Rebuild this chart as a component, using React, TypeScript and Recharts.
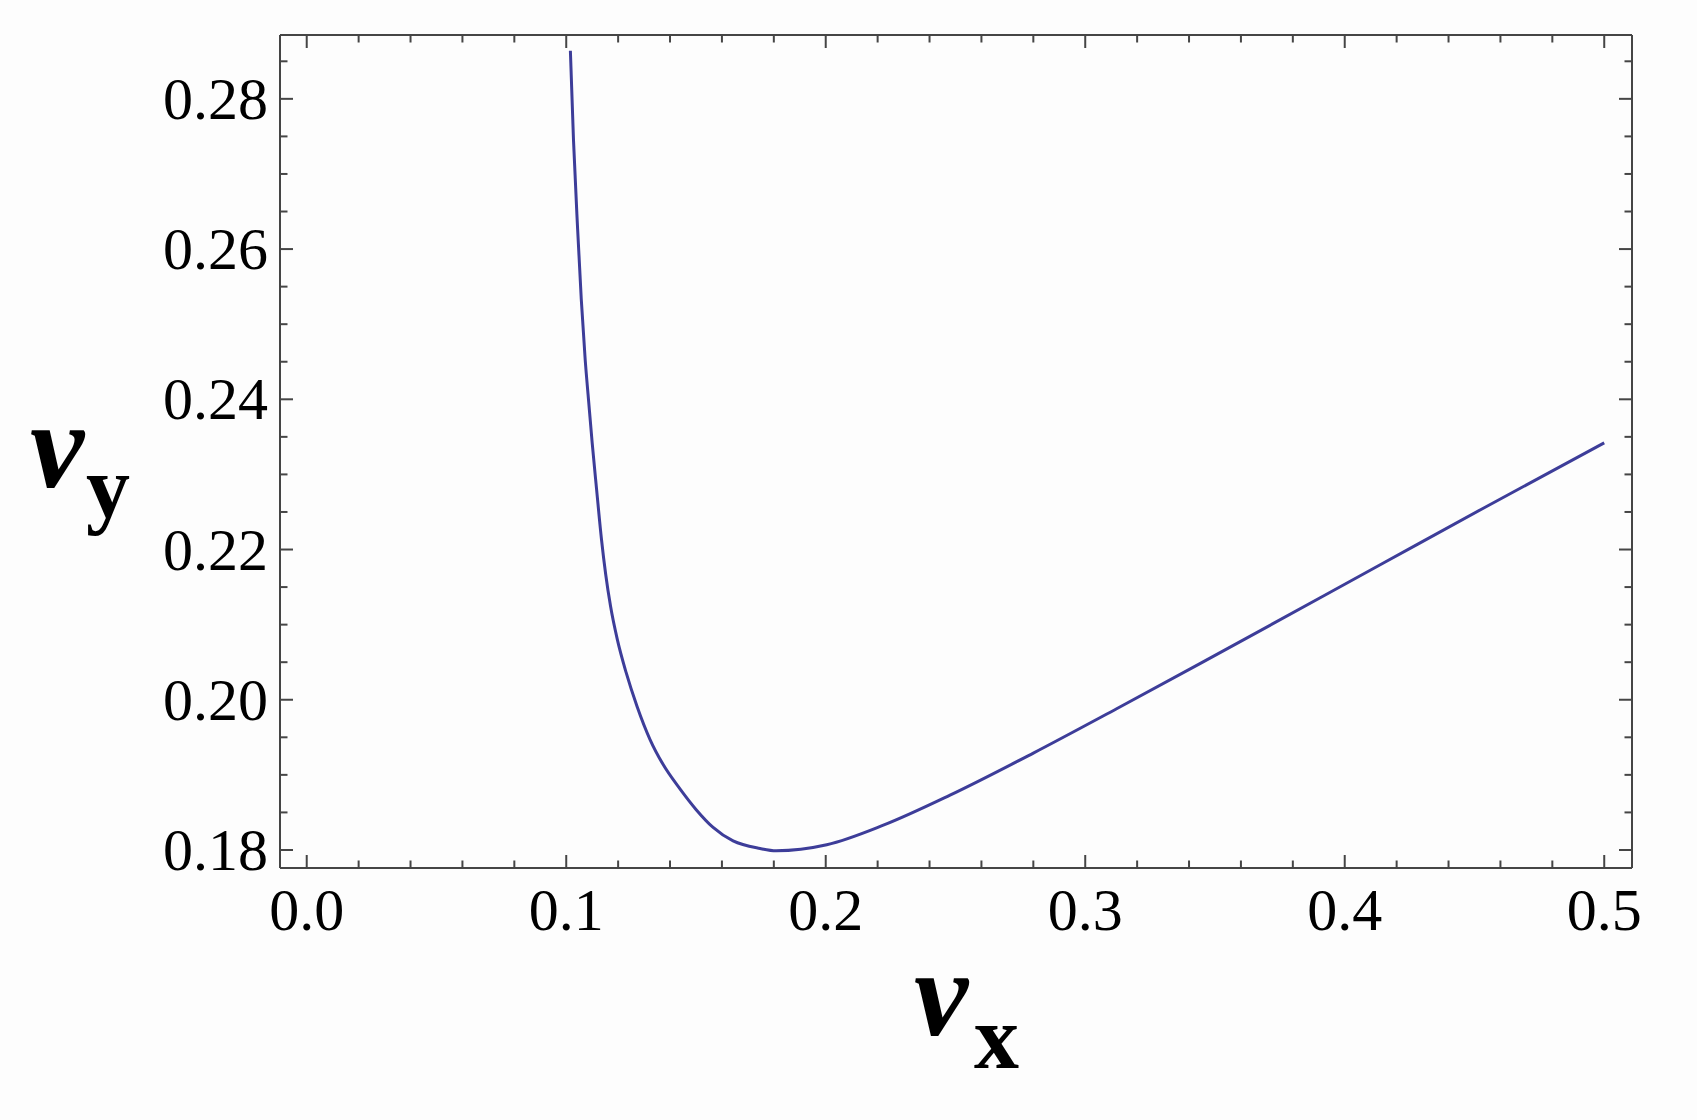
import React from "react";
import { LineChart, Line, XAxis, YAxis } from "recharts";

// curve (vx, vy)
const vxValues = [
  0.1016, 0.1028, 0.1044, 0.1058, 0.1073, 0.1086, 0.11, 0.1117, 0.1136,
  0.1152, 0.1171, 0.1197, 0.1231, 0.1273, 0.1323, 0.1373, 0.1439, 0.15,
  0.1566, 0.1643, 0.1747, 0.1809, 0.2004, 0.2222, 0.2479, 0.28, 0.3121,
  0.3442, 0.4149, 0.4534, 0.5,
];
const vyValues = [
  0.2864, 0.2745, 0.2626, 0.2533, 0.2453, 0.2399, 0.2342, 0.228, 0.2213,
  0.2167, 0.2124, 0.208, 0.2036, 0.1991, 0.1947, 0.1914, 0.1881, 0.1854,
  0.183, 0.1812, 0.1802, 0.1799, 0.1807, 0.1833, 0.1873, 0.1929, 0.1988,
  0.2048, 0.2182, 0.2255, 0.2342,
];

const xMajorTicks = [0, 0.1, 0.2, 0.3, 0.4, 0.5];
const xTickLabels = ["0.0", "0.1", "0.2", "0.3", "0.4", "0.5"];
const xMinorTicks = [
  0.02, 0.04, 0.06, 0.08, 0.12, 0.14, 0.16, 0.18, 0.22, 0.24, 0.26, 0.28,
  0.32, 0.34, 0.36, 0.38, 0.42, 0.44, 0.46, 0.48,
];
const yMajorTicks = [0.18, 0.2, 0.22, 0.24, 0.26, 0.28];
const yTickLabels = ["0.18", "0.20", "0.22", "0.24", "0.26", "0.28"];
const yMinorTicks = [
  0.185, 0.19, 0.195, 0.205, 0.21, 0.215, 0.225, 0.23, 0.235, 0.245, 0.25,
  0.255, 0.265, 0.27, 0.275, 0.285,
];

const xDomain = [-0.0103, 0.5107];
const yDomain = [0.1776, 0.2885];

const data = vxValues.map((vx, i) => ({ vx, vy: vyValues[i] }));
const allXTicks = [...xMajorTicks, ...xMinorTicks].sort((a, b) => a - b);
const allYTicks = [...yMajorTicks, ...yMinorTicks].sort((a, b) => a - b);

const FONT = "'Liberation Serif', 'Times New Roman', serif";
const FRAME = "#454545";
const CURVE = "#3d3d99";

const majorIndex = (v: number, majors: number[]) =>
  majors.findIndex((m) => Math.abs(m - v) < 1e-9);

// side: which edge of the frame the tick sits on; ticks point inward
const FrameTick = (props: any) => {
  const { x, y, payload, side } = props;
  const v = payload.value;
  const majors = side === "bottom" || side === "top" ? xMajorTicks : yMajorTicks;
  const mi = majorIndex(v, majors);
  const len = mi >= 0 ? 13 : 7.5;
  if (side === "bottom") {
    return (
      <g>
        <line x1={x} y1={y} x2={x} y2={y - len} stroke={FRAME} strokeWidth={2} />
        {mi >= 0 && (
          <text x={x} y={y + 62} textAnchor="middle" fontFamily={FONT} fontSize={60} fill="#000">
            {xTickLabels[mi]}
          </text>
        )}
      </g>
    );
  }
  if (side === "top") {
    return <line x1={x} y1={y} x2={x} y2={y + len} stroke={FRAME} strokeWidth={2} />;
  }
  if (side === "left") {
    return (
      <g>
        <line x1={x} y1={y} x2={x + len} y2={y} stroke={FRAME} strokeWidth={2} />
        {mi >= 0 && (
          <text x={x - 12} y={y + 20} textAnchor="end" fontFamily={FONT} fontSize={60} fill="#000">
            {yTickLabels[mi]}
          </text>
        )}
      </g>
    );
  }
  return <line x1={x} y1={y} x2={x - len} y2={y} stroke={FRAME} strokeWidth={2} />;
};

const VxLabel = (props: any) => {
  const { viewBox } = props;
  const cx = viewBox.x + viewBox.width / 2;
  const base = viewBox.y + 167;
  return (
    <text fontFamily={FONT} fill="#000" fontWeight="bold">
      <tspan x={cx - 42} y={base} fontStyle="italic" fontSize={122}>v</tspan>
      <tspan x={cx + 18} y={base + 33} fontSize={90}>x</tspan>
    </text>
  );
};

const VyLabel = () => (
  <text fontFamily={FONT} fill="#000" fontWeight="bold">
    <tspan x={30} y={487} fontStyle="italic" fontSize={122}>v</tspan>
    <tspan x={86} y={517} fontSize={88}>y</tspan>
  </text>
);

export default function App() {
  return (
    <div style={{ position: "absolute", left: 0, top: 0, width: 1697, height: 1120, background: "#fdfdfd" }}>
      <LineChart
        width={1697}
        height={1120}
        data={data}
        margin={{ top: 25, left: 200, right: 55, bottom: 192 }}
      >
        <XAxis
          xAxisId="b"
          dataKey="vx"
          type="number"
          domain={xDomain}
          allowDataOverflow
          ticks={allXTicks}
          interval={0}
          height={60}
          tickSize={0}
          tickMargin={0}
          tickLine={false}
          axisLine={{ stroke: FRAME, strokeWidth: 2 }}
          tick={<FrameTick side="bottom" />}
          label={{ content: <VxLabel /> }}
        />
        <XAxis
          xAxisId="t"
          dataKey="vx"
          orientation="top"
          type="number"
          domain={xDomain}
          allowDataOverflow
          ticks={allXTicks}
          interval={0}
          height={10}
          tickSize={0}
          tickMargin={0}
          tickLine={false}
          axisLine={{ stroke: FRAME, strokeWidth: 2 }}
          tick={<FrameTick side="top" />}
        />
        <YAxis
          yAxisId="l"
          type="number"
          domain={yDomain}
          allowDataOverflow
          ticks={allYTicks}
          interval={0}
          width={80}
          tickSize={0}
          tickMargin={0}
          tickLine={false}
          axisLine={{ stroke: FRAME, strokeWidth: 2 }}
          tick={<FrameTick side="left" />}
          label={{ content: <VyLabel /> }}
        />
        <YAxis
          yAxisId="r"
          orientation="right"
          type="number"
          domain={yDomain}
          allowDataOverflow
          ticks={allYTicks}
          interval={0}
          width={10}
          tickSize={0}
          tickMargin={0}
          tickLine={false}
          axisLine={{ stroke: FRAME, strokeWidth: 2 }}
          tick={<FrameTick side="right" />}
        />
        {/* invisible twin so the top/right frame axes share the same scales */}
        <Line
          xAxisId="t"
          yAxisId="r"
          type="monotone"
          dataKey="vy"
          stroke="none"
          dot={false}
          activeDot={false}
          isAnimationActive={false}
        />
        <Line
          xAxisId="b"
          yAxisId="l"
          type="monotone"
          dataKey="vy"
          stroke={CURVE}
          strokeWidth={3}
          dot={false}
          activeDot={false}
          isAnimationActive={false}
        />
      </LineChart>
    </div>
  );
}
